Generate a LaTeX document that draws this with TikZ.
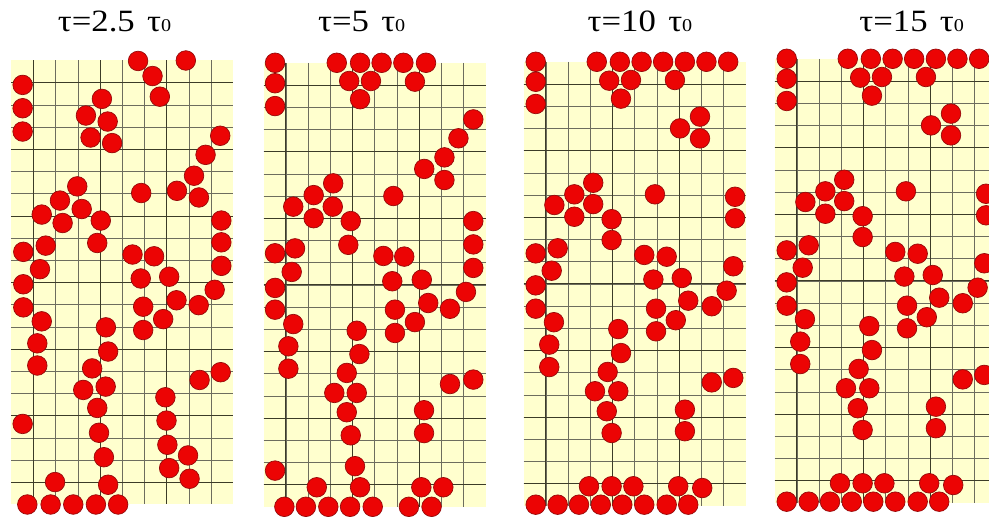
\documentclass[tikz,border=0pt]{standalone}
\usepackage{fontspec}
\usepackage{graphicx}
\setmainfont{Liberation Serif}
\usetikzlibrary{positioning}

\definecolor{paneyellow}{RGB}{255,255,206}
\definecolor{ballred}{RGB}{236,4,4}
\definecolor{balledge}{RGB}{150,10,10}
\definecolor{gridink}{RGB}{60,60,40}

\newcommand{\zerosub}{{\fontsize{18}{18}\selectfont 0}}

% ball centres, in cells (column/row, row 0 = top edge)
\newcommand{\ballsA}{5.72/0.02, 7.87/0, 6.37/0.7, 6.7/1.63, 0.52/1.1, 0.52/2.15, 0.52/3.2,
  4.09/1.73, 3.37/2.48, 4.35/2.75, 3.58/3.47, 4.55/3.72, 9.42/3.39, 8.76/4.25, 8.24/5.19,
  7.47/5.87, 8.46/6.17, 5.86/5.97, 2.98/5.67, 2.2/6.31, 3.18/6.69, 1.38/6.94, 2.32/7.32,
  4.04/7.21, 9.47/7.21, 9.47/8.19, 3.88/8.22, 1.56/8.34, 0.55/8.62, 5.47/8.74, 6.44/8.82,
  9.47/9.25, 1.3/9.4, 0.55/10.08, 0.55/11.12, 5.84/9.82, 7.12/9.74, 9.17/10.33, 7.45/10.8,
  8.45/11.02, 5.95/11.09, 6.85/11.65, 5.95/12.14, 1.38/11.75, 4.27/12.02, 1.18/12.74,
  4.37/13.11, 1.18/13.74, 3.65/13.87, 9.44/14.04, 8.49/14.39, 3.25/14.84, 4.26/14.69,
  6.95/15.17, 3.88/15.65, 0.52/16.37, 7.0/16.22, 3.96/16.77, 7.04/17.31, 7.97/17.79,
  4.18/17.87, 7.12/18.36, 8.04/18.84, 1.98/18.99, 4.37/19.11,
  0.73/20, 1.78/20, 2.8/20, 3.82/20, 4.82/20}
\newcommand{\ballsB}{0.52/0, 3.3/0, 4.35/0, 5.32/0, 6.3/0, 7.32/0, 0.52/0.92, 0.52/1.95,
  3.86/0.82, 4.84/0.82, 6.82/0.85, 4.35/1.64, 9.45/2.55, 8.78/3.4, 8.15/4.26, 7.24/4.78,
  8.15/5.28, 5.85/6.0, 3.14/5.43, 2.26/5.96, 1.34/6.48, 3.12/6.48, 2.26/7.0, 3.93/7.13,
  3.82/8.2, 9.45/7.13, 9.45/8.18, 1.42/8.36, 0.52/8.58, 5.4/8.7, 6.34/8.73, 9.45/9.24,
  1.27/9.42, 0.52/10.14, 0.52/11.12, 5.8/9.84, 7.13/9.77, 9.12/10.32, 7.42/10.82,
  8.4/11.08, 5.92/11.12, 6.82/11.68, 5.92/12.17, 1.34/11.77, 4.2/12.07, 1.12/12.77,
  4.32/13.12, 1.12/13.78, 3.75/13.97, 9.45/14.27, 8.4/14.47, 3.19/14.87, 4.2/14.87,
  3.75/15.74, 7.23/15.65, 7.23/16.68, 3.93/16.78, 0.52/18.37, 4.12/18.17, 2.4/19.12,
  4.35/19.12, 7.11/19.12, 8.1/19.12,
  0.94/20, 1.91/20, 2.92/20, 3.9/20, 4.92/20, 6.55/20, 7.57/20}
\newcommand{\ballsC}{0.55/0, 0.55/0.9, 0.55/1.9, 3.3/0, 4.34/0, 5.32/0, 6.29/0, 7.27/0,
  8.24/0, 9.22/0, 3.86/0.85, 4.84/0.82, 6.82/0.82, 4.39/1.66, 7.95/2.47, 7.05/3.0,
  7.95/3.45, 3.14/5.45, 5.92/5.97, 2.29/5.97, 1.39/6.45, 3.14/6.41, 2.29/6.98, 3.97/7.09,
  3.97/8.03, 9.53/6.08, 9.53/7.05, 1.54/8.4, 0.55/8.63, 5.44/8.7, 6.45/8.78, 9.45/9.21,
  1.27/9.41, 0.55/10.07, 0.55/11.12, 5.85/9.81, 7.13/9.74, 9.15/10.31, 7.42/10.76,
  8.48/11.01, 5.97/11.12, 6.86/11.64, 5.97/12.14, 1.37/11.73, 4.27/12.04, 1.16/12.74,
  4.39/13.12, 1.16/13.75, 3.79/13.97, 9.45/14.24, 8.48/14.44, 3.22/14.84, 4.27/14.84,
  3.75/15.74, 7.27/15.67, 7.27/16.64, 3.97/16.72, 2.95/19.12, 3.97/19.12, 4.95/19.12,
  6.97/19.12, 8.05/19.2,
  0.55/19.95, 1.54/19.95, 2.5/19.95, 3.48/19.95, 4.45/19.95, 5.44/19.95, 6.45/19.95, 7.42/19.95}

% one panel: #1,#2 = top left corner, #3 = ball list
\newcommand{\drawpanel}[3]{%
  \begin{scope}[shift={(#1,#2)}, x=22.2pt, y=-22.2pt]
    \fill[panelbg] (0,0) rectangle (10,20);
    \foreach \i in {1,...,9} \draw[gridline] (\i,0) -- (\i,20);
    \foreach \j in {1,...,19} \draw[gridline] (0,\j) -- (10,\j);
    \foreach \i in {1,4,7} \draw[gridmajor] (\i,0) -- (\i,20);
    \foreach \j in {1,4,...,19} \draw[gridmajor] (0,\j) -- (10,\j);
    \foreach \cx/\cy in #3 \path[ball] (\cx,\cy) circle[radius=9.8pt];
  \end{scope}}

\begin{document}
\begin{tikzpicture}[
        x=1pt, y=-1pt,
        panelbg/.style={fill=paneyellow},
        gridline/.style={draw=gridink!75, line width=0.4pt},
        gridmajor/.style={draw=gridink, line width=0.6pt},
        ball/.style={fill=ballred, draw=balledge, line width=0.7pt},
        title/.style={anchor=base, inner sep=0pt, font=\fontsize{31}{31}\selectfont}
      ]
      \clip (0,0) rectangle (989,518);
      \fill[white] (0,0) rectangle (989,518);

      % Panels
      \drawpanel{11.1}{60.5}{\ballsA}
      \drawpanel{263.5}{62.8}{\ballsB}
      \drawpanel{523.5}{61.8}{\ballsC}
      \drawpanel{774.5}{58.8}{\ballsC}

      % Titles
      \node [title] (t1) at (114.5,32) {\scalebox{1.12}[1]{τ=2.5\hspace{11pt}τ\zerosub}};
      \node [title] (t2) at (361.7,32) {\scalebox{1.12}[1]{τ=5\hspace{11pt}τ\zerosub}};
      \node [title] (t3) at (640,32) {\scalebox{1.12}[1]{τ=10\hspace{11pt}τ\zerosub}};
      \node [title] (t4) at (911.7,32) {\scalebox{1.12}[1]{τ=15\hspace{11pt}τ\zerosub}};

    \end{tikzpicture}
\end{document}
